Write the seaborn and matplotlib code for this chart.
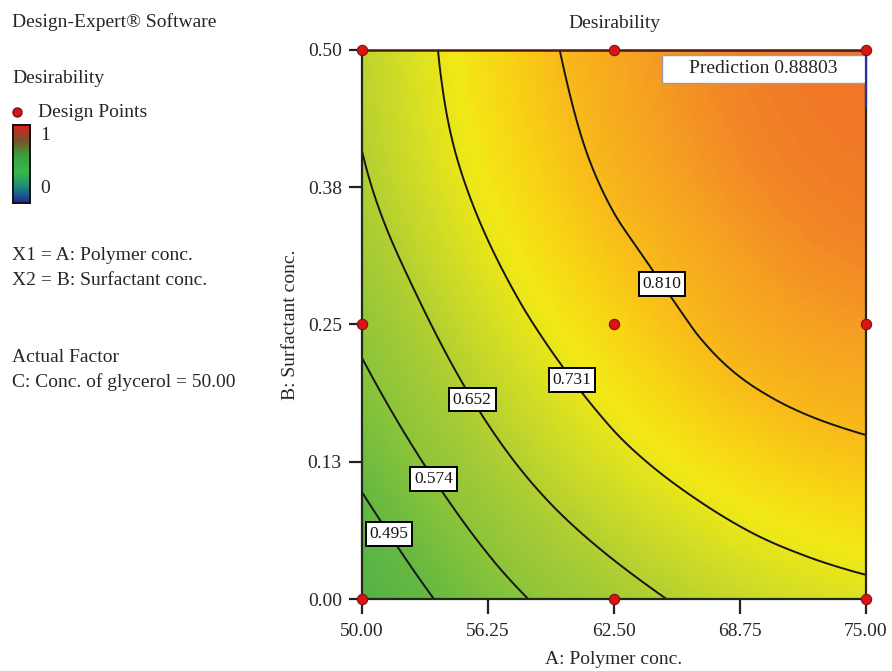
import numpy as np
import matplotlib
matplotlib.use('Agg')
import matplotlib.pyplot as plt
import matplotlib.tri as mtri
from matplotlib.colors import LinearSegmentedColormap
from matplotlib.patches import Rectangle
from matplotlib.lines import Line2D
import seaborn as sns

# Grid: rows = B (surfactant), cols = A (polymer)
polymer = [50, 55, 60, 65, 70, 75]
surfactant = [0.0, 0.1, 0.2, 0.3, 0.4, 0.5]
d_b00 = [0.420, 0.522, 0.597, 0.651, 0.691, 0.715]
d_b01 = [0.497, 0.594, 0.669, 0.723, 0.762, 0.783]
d_b02 = [0.563, 0.654, 0.726, 0.780, 0.816, 0.833]
d_b03 = [0.614, 0.701, 0.769, 0.815, 0.851, 0.867]
d_b04 = [0.650, 0.735, 0.797, 0.843, 0.872, 0.883]
d_b05 = [0.667, 0.750, 0.812, 0.855, 0.880, 0.888]

levels = [0.495, 0.574, 0.652, 0.731, 0.810]

design_A = [50, 50, 50, 62.5, 62.5, 62.5, 75, 75, 75]
design_B = [0.0, 0.25, 0.5, 0.0, 0.25, 0.5, 0.0, 0.25, 0.5]

x_ticks = [50, 56.25, 62.5, 68.75, 75]
x_labels = ['50.00', '56.25', '62.50', '68.75', '75.00']
y_ticks = [0, 0.125, 0.25, 0.375, 0.5]
y_labels = ['0.00', '0.13', '0.25', '0.38', '0.50']

sns.set_style('ticks')
plt.rcParams['font.family'] = ['Liberation Serif', 'DejaVu Serif']

# Design-Expert like colour scale
de_cmap = LinearSegmentedColormap.from_list('de', [
    (0.0, '#1d2f9c'), (0.25, '#1f8f7a'), (0.42, '#52b248'), (0.5, '#68b941'),
    (0.57, '#8ac43a'), (0.62, '#a2ca36'), (0.65, '#b2cf32'), (0.70, '#d2dd26'),
    (0.745, '#f2e916'), (0.78, '#f8d414'), (0.81, '#f8bb1a'), (0.85, '#f59e22'),
    (0.89, '#f07428'), (1.0, '#dd2020')])
leg_cmap = LinearSegmentedColormap.from_list('leg', [
    '#1c2a9e', '#1f8a7a', '#3cb84a', '#3aa040', '#7a5028', '#e21e1e'])

fig = plt.figure(figsize=(8.92, 6.71), dpi=100)
ax = fig.add_axes([0.4058, 0.1073, 0.5651, 0.8182])

grid = np.array([d_b00, d_b01, d_b02, d_b03, d_b04, d_b05])
ii, jj = np.meshgrid(np.arange(len(polymer)), np.arange(len(surfactant)))
tri_idx = mtri.Triangulation(ii.ravel().astype(float), jj.ravel().astype(float))
refiner = mtri.UniformTriRefiner(tri_idx)
tri_r, z_r = refiner.refine_field(grid.ravel(), subdiv=4)
tri_plot = mtri.Triangulation(np.interp(tri_r.x, np.arange(len(polymer)), polymer),
                              np.interp(tri_r.y, np.arange(len(surfactant)), surfactant),
                              tri_r.triangles)

ax.tripcolor(tri_plot, z_r, shading='gouraud', cmap=de_cmap, vmin=0, vmax=1)
cs = ax.tricontour(tri_plot, z_r, levels=levels, colors='#151515', linewidths=1.4)

label_pos = [(51.5, 0.061), (53.6, 0.110), (55.6, 0.183), (60.6, 0.202), (64.9, 0.287)]
labels = ax.clabel(cs, fmt='%.3f', manual=label_pos, inline=False, fontsize=12.5)
for t in labels:
    t.set_rotation(0)
    t.set_bbox(dict(boxstyle='square,pad=0.22', fc='white', ec='black', lw=1.4))

sns.scatterplot(x=design_A, y=design_B, ax=ax, color='#d81414', edgecolor='#801010',
                linewidth=0.8, s=55, zorder=8, clip_on=False, legend=False)

ax.set_xlim(50, 75)
ax.set_ylim(0, 0.5)
ax.set_xticks(x_ticks, x_labels, fontsize=14)
ax.set_yticks(y_ticks, y_labels, fontsize=14)
ax.tick_params(axis='x', length=11, width=1.6, pad=6, color='#222222')
ax.tick_params(axis='y', length=9.5, width=1.6, pad=5, color='#222222')
for side in ['left', 'bottom', 'right']:
    ax.spines[side].set_color('#1e2a18')
    ax.spines[side].set_linewidth(1.6)
ax.spines['top'].set_color('#4a1a12')
ax.spines['top'].set_linewidth(1.8)
ax.set_xlabel('A: Polymer conc.', fontsize=14, labelpad=8)
ax.set_ylabel('B: Surfactant conc.', fontsize=14, labelpad=6)
ax.set_title('Desirability', fontsize=14, pad=16)

# prediction flag at the optimum
ax.add_patch(Rectangle((0.595, 0.940), 0.405, 0.051, transform=ax.transAxes,
                       fc='white', ec='#9a9aa8', lw=1, zorder=6))
ax.text(0.797, 0.9655, 'Prediction 0.88803', transform=ax.transAxes,
        ha='center', va='center', fontsize=14, zorder=7)
ax.plot([1, 1], [1, 0.896], transform=ax.transAxes, color='#2233a0', lw=1.6,
        clip_on=False, zorder=7)

# left hand info panel
fs = 14
fig.text(0.0135, 0.960, 'Design-Expert® Software', fontsize=fs, va='baseline')
fig.text(0.0135, 0.876, 'Desirability', fontsize=fs, va='baseline')
fig.add_artist(Line2D([0.019], [0.833], marker='o', color='#d81414', markeredgecolor='#801010',
                      markersize=6.5, transform=fig.transFigure))
fig.text(0.0426, 0.826, 'Design Points', fontsize=fs, va='baseline')
cax = fig.add_axes([0.0146, 0.697, 0.019, 0.117])
cax.imshow(np.linspace(1, 0, 100).reshape(-1, 1), aspect='auto', cmap=leg_cmap)
cax.set_xticks([])
cax.set_yticks([])
for s in cax.spines.values():
    s.set_color('#111111')
    s.set_linewidth(1.4)
fig.text(0.0448, 0.791, '1', fontsize=fs, va='baseline')
fig.text(0.0448, 0.712, '0', fontsize=fs, va='baseline')
fig.text(0.0135, 0.6125, 'X1 = A: Polymer conc.', fontsize=fs, va='baseline')
fig.text(0.0135, 0.575, 'X2 = B: Surfactant conc.', fontsize=fs, va='baseline')
fig.text(0.0135, 0.4605, 'Actual Factor', fontsize=fs, va='baseline')
fig.text(0.0135, 0.4232, 'C: Conc. of glycerol = 50.00', fontsize=fs, va='baseline')

fig.savefig('out.png', dpi=100)
